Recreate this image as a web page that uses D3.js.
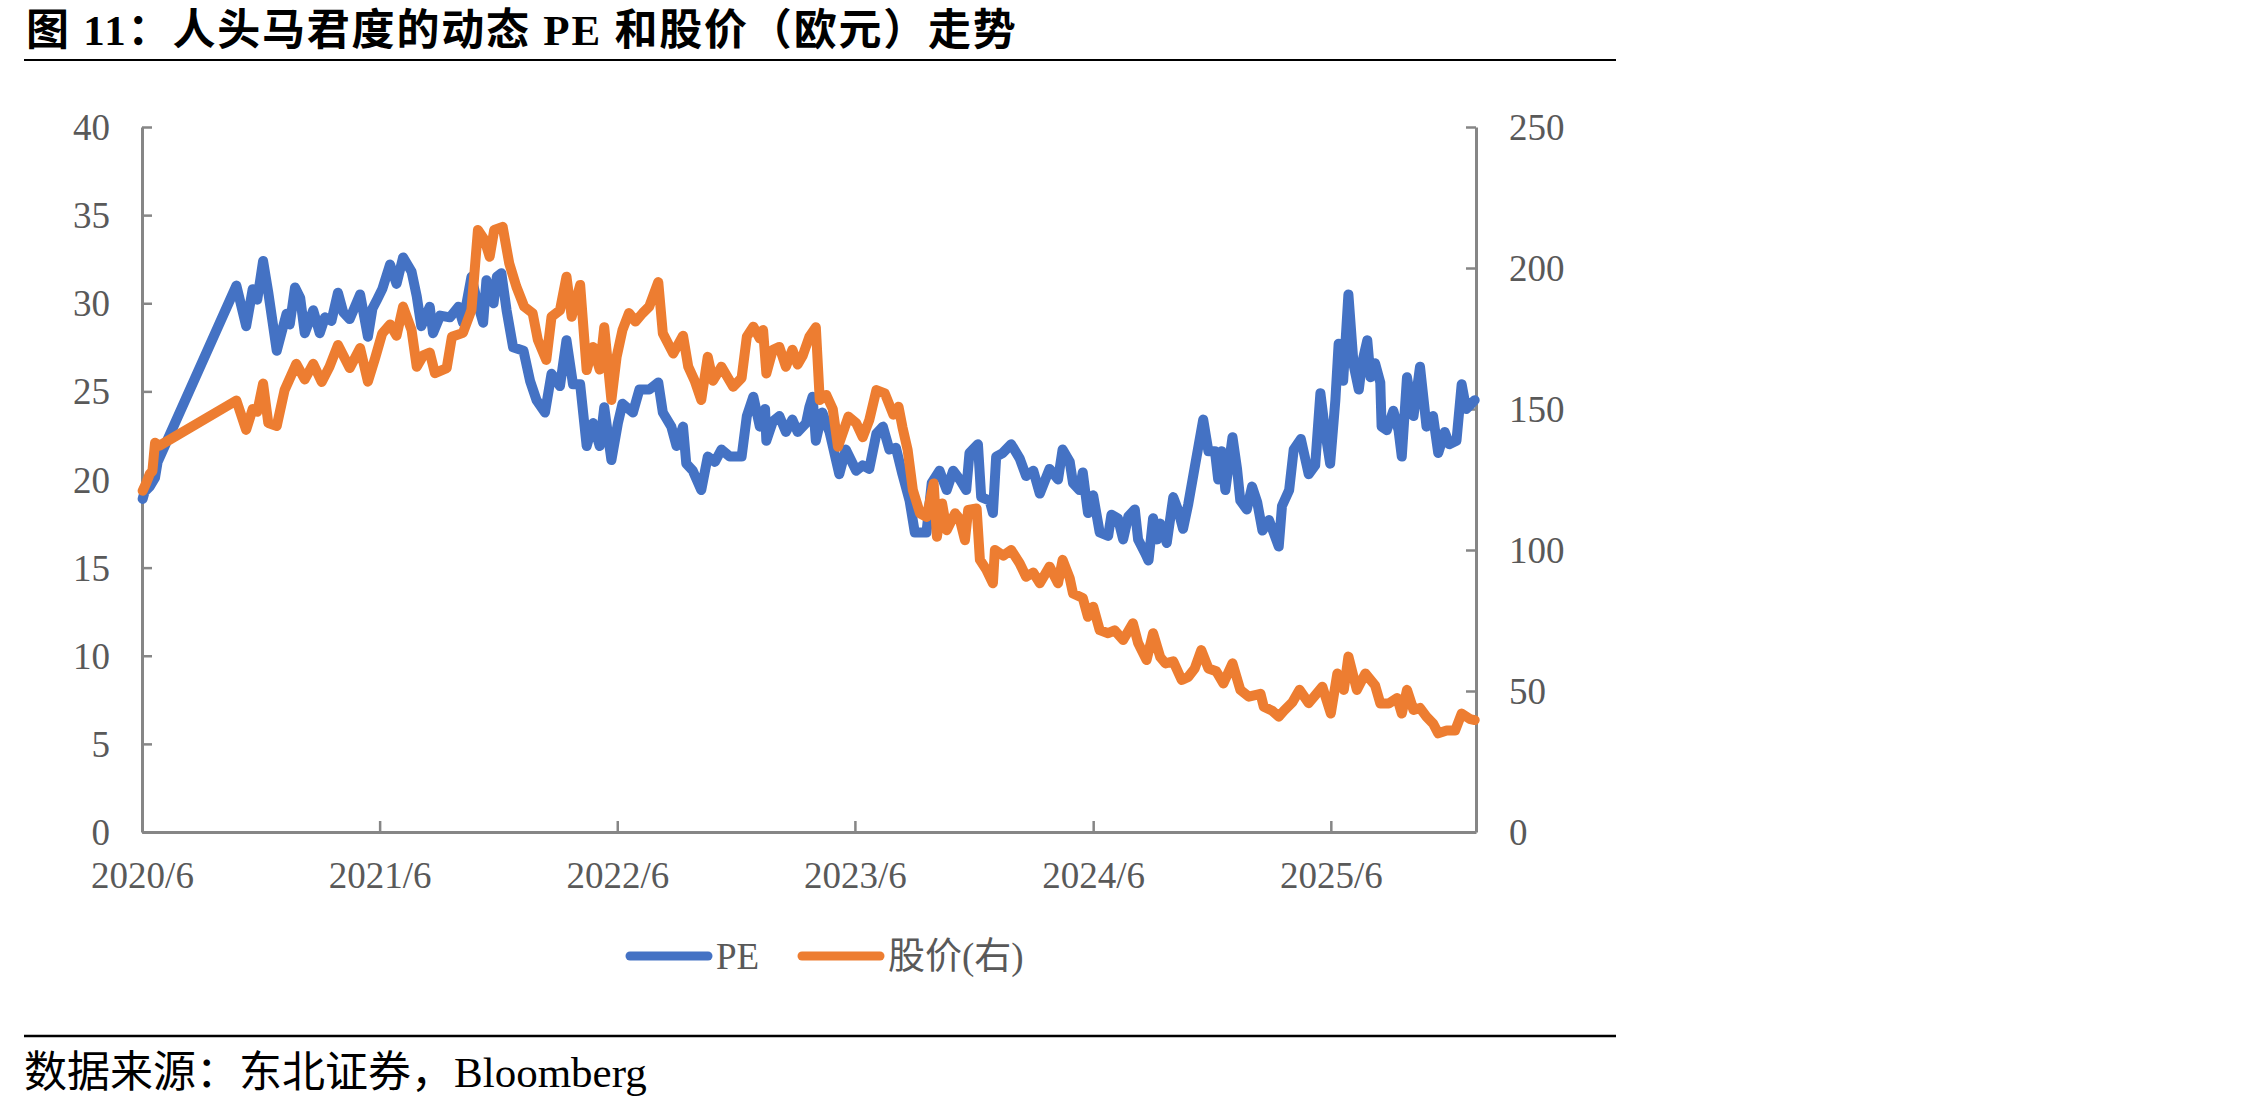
<!DOCTYPE html>
<html>
<head>
<meta charset="utf-8">
<script src="https://cdn.jsdelivr.net/npm/d3@7"></script>
<style>
  html, body { margin: 0; padding: 0; background: #fff; }
  svg { display: block; }
</style>
</head>
<body>
<svg id="chart" width="2268" height="1107"></svg>
<script>
// ---------------- data ----------------
const titleParts = ["图 ", "11", "：人头马君度的动态 ", "PE", " 和股价（欧元）走势"];
const sourceParts = ["数据来源：东北证券，", "Bloomberg"];
const seriesNames = ["PE", "股价(右)"];
const xTickDates = ["2020-06-01", "2021-06-01", "2022-06-01", "2023-06-01", "2024-06-01", "2025-06-01"];
const xTickLabels = ["2020/6", "2021/6", "2022/6", "2023/6", "2024/6", "2025/6"];
const leftTicks = [0, 5, 10, 15, 20, 25, 30, 35, 40];
const rightTicks = [0, 50, 100, 150, 200, 250];
const xDomain = ["2020-06-01", "2026-01-10"];

const peDates = ["2020-06-02","2020-06-05","2020-06-13","2020-06-21","2020-06-25","2020-10-24","2020-11-08","2020-11-18","2020-11-25","2020-12-04","2020-12-12","2020-12-25",
"2021-01-09","2021-01-14","2021-01-22","2021-01-30","2021-02-06","2021-02-19","2021-03-01","2021-03-09","2021-03-19","2021-03-29","2021-04-06","2021-04-16","2021-05-02","2021-05-14","2021-05-21","2021-05-28","2021-06-05","2021-06-17","2021-06-27","2021-07-07","2021-07-20","2021-07-28","2021-08-04","2021-08-17","2021-08-22","2021-09-02","2021-09-17","2021-09-30","2021-10-07","2021-10-20","2021-10-28","2021-11-07","2021-11-12","2021-11-23","2021-11-28","2021-12-05","2021-12-13","2021-12-23",
"2022-01-08","2022-01-18","2022-01-28","2022-02-10","2022-02-20","2022-03-05","2022-03-15","2022-03-25","2022-04-05","2022-04-15","2022-04-25","2022-05-05","2022-05-12","2022-05-23","2022-06-02","2022-06-09","2022-06-25","2022-07-05","2022-07-20","2022-08-03","2022-08-10","2022-08-23","2022-08-31","2022-09-10","2022-09-15","2022-09-25","2022-10-08","2022-10-18","2022-10-29","2022-11-08","2022-11-21","2022-12-09","2022-12-17","2022-12-27",
"2023-01-06","2023-01-14","2023-01-16","2023-01-26","2023-02-05","2023-02-15","2023-02-25","2023-03-05","2023-03-18","2023-03-23","2023-03-28","2023-04-02","2023-04-12","2023-04-23","2023-05-08","2023-05-18","2023-06-03","2023-06-13","2023-06-23","2023-07-04","2023-07-14","2023-07-24","2023-08-03","2023-08-13","2023-08-24","2023-09-01","2023-09-19","2023-09-27","2023-10-09","2023-10-20","2023-10-30","2023-11-09","2023-11-19","2023-11-24","2023-12-07","2023-12-12","2023-12-25","2023-12-30",
"2024-01-04","2024-01-14","2024-01-27","2024-02-09","2024-02-19","2024-03-01","2024-03-11","2024-03-26","2024-04-08","2024-04-15","2024-04-26","2024-05-01","2024-05-11","2024-05-16","2024-05-24","2024-06-01","2024-06-11","2024-06-24","2024-06-29","2024-07-09","2024-07-17","2024-07-25","2024-08-04","2024-08-09","2024-08-20","2024-08-25","2024-09-01","2024-09-07","2024-09-12","2024-09-22","2024-10-02","2024-10-10","2024-10-17","2024-10-25","2024-11-04","2024-11-17","2024-11-25","2024-12-05","2024-12-10","2024-12-15","2024-12-21",
"2025-01-01","2025-01-08","2025-01-13","2025-01-23","2025-01-31","2025-02-08","2025-02-16","2025-02-26","2025-03-05","2025-03-13","2025-03-18","2025-03-29","2025-04-05","2025-04-16","2025-04-28","2025-05-08","2025-05-16","2025-05-23","2025-05-31","2025-06-08","2025-06-13","2025-06-20","2025-06-28","2025-07-06","2025-07-14","2025-07-19","2025-07-27","2025-08-01","2025-08-08","2025-08-16","2025-08-18","2025-08-26","2025-09-05","2025-09-13","2025-09-18","2025-09-26","2025-10-06","2025-10-16","2025-10-26","2025-11-05","2025-11-13","2025-11-23","2025-11-30","2025-12-11","2025-12-19","2025-12-26","2026-01-03","2026-01-08"];
const peValues = [18.9,19.3,19.6,20.1,21.0,31.0,28.7,30.8,30.2,32.4,30.6,27.3,
29.4,28.8,30.9,30.3,28.3,29.6,28.3,29.2,29.0,30.6,29.5,29.1,30.5,28.1,29.7,30.2,30.8,32.2,31.1,32.6,31.8,30.4,28.7,29.8,28.3,29.3,29.2,29.8,28.9,31.5,30.2,28.9,31.3,30.0,31.5,31.7,29.6,27.5,
27.3,25.6,24.5,23.8,26.0,25.3,27.9,25.4,25.4,21.9,23.2,21.9,24.1,21.1,23.2,24.3,23.8,25.1,25.1,25.5,23.8,23.0,21.9,23.0,20.9,20.5,19.4,21.3,21.0,21.7,21.3,21.3,23.6,24.7,
23.0,24.0,22.2,23.3,23.6,22.7,23.4,22.7,23.2,24.1,24.7,22.2,23.8,22.7,20.3,21.7,20.5,20.8,20.6,22.6,23.0,21.7,21.8,20.3,18.8,17.0,17.0,19.8,20.5,19.4,20.5,20.0,19.4,21.5,22.0,19.0,18.8,18.1,
21.3,21.5,22.0,21.2,20.2,20.5,19.2,20.6,20.0,21.7,21.0,19.8,19.4,20.4,18.1,19.1,17.0,16.8,18.0,17.8,16.6,17.9,18.3,16.6,15.8,15.4,17.8,16.6,17.5,16.4,19.0,18.2,17.2,18.6,20.7,23.4,21.6,21.6,20.0,21.6,19.4,
22.4,20.6,18.8,18.3,19.6,18.7,17.1,17.7,17.0,16.2,18.5,19.4,21.7,22.3,20.3,20.8,24.9,22.8,20.9,24.5,27.7,25.6,30.5,26.5,25.1,26.6,27.9,25.8,26.6,25.5,23.0,22.8,23.9,22.8,21.3,25.8,23.6,26.4,23.0,23.6,21.5,22.7,22.0,22.2,25.4,24.0,24.3,24.5];

const priceDates = ["2020-06-02","2020-06-08","2020-06-13","2020-06-17","2020-06-21","2020-06-28","2020-10-24","2020-11-08","2020-11-18","2020-11-25","2020-12-04","2020-12-12","2020-12-25",
"2021-01-06","2021-01-24","2021-02-06","2021-02-19","2021-03-04","2021-03-16","2021-03-29","2021-04-16","2021-05-02","2021-05-14","2021-05-25","2021-06-05","2021-06-17","2021-06-27","2021-07-07","2021-07-20","2021-07-28","2021-08-07","2021-08-17","2021-08-25","2021-09-12","2021-09-20","2021-10-07","2021-10-20","2021-10-30","2021-11-09","2021-11-17","2021-11-24","2021-12-07","2021-12-17","2021-12-28",
"2022-01-09","2022-01-22","2022-01-30","2022-02-12","2022-02-20","2022-03-05","2022-03-15","2022-03-23","2022-04-05","2022-04-15","2022-04-25","2022-05-05","2022-05-12","2022-05-23","2022-05-31","2022-06-09","2022-06-19","2022-06-29","2022-07-10","2022-07-20","2022-08-03","2022-08-10","2022-08-26","2022-09-10","2022-09-18","2022-09-28","2022-10-08","2022-10-18","2022-10-26","2022-11-08","2022-11-26","2022-12-09","2022-12-17","2022-12-27",
"2023-01-06","2023-01-11","2023-01-16","2023-01-26","2023-02-05","2023-02-15","2023-02-25","2023-03-05","2023-03-13","2023-03-23","2023-04-02","2023-04-08","2023-04-18","2023-04-28","2023-05-06","2023-05-22","2023-06-03","2023-06-13","2023-06-23","2023-07-04","2023-07-17","2023-07-30","2023-08-07","2023-08-13","2023-08-21","2023-08-29","2023-09-09","2023-09-19","2023-09-30","2023-10-05","2023-10-13","2023-10-20","2023-11-02","2023-11-09","2023-11-17","2023-11-22","2023-12-05","2023-12-10","2023-12-20","2023-12-30",
"2024-01-02","2024-01-15","2024-01-27","2024-02-09","2024-02-19","2024-03-01","2024-03-11","2024-03-26","2024-04-08","2024-04-15","2024-04-26","2024-05-01","2024-05-16","2024-05-24","2024-06-01","2024-06-11","2024-06-24","2024-07-04","2024-07-17","2024-08-01","2024-08-09","2024-08-22","2024-09-01","2024-09-12","2024-09-20","2024-10-02","2024-10-15","2024-10-25","2024-11-04","2024-11-14","2024-11-25","2024-12-07","2024-12-18",
"2025-01-01","2025-01-13","2025-01-26","2025-02-13","2025-02-18","2025-03-03","2025-03-13","2025-03-21","2025-04-03","2025-04-14","2025-04-28","2025-05-19","2025-06-01","2025-06-11","2025-06-21","2025-06-28","2025-07-11","2025-07-24","2025-08-08","2025-08-16","2025-08-29","2025-09-11","2025-09-18","2025-09-26","2025-10-06","2025-10-16","2025-10-26","2025-11-05","2025-11-13","2025-11-26","2025-12-09","2025-12-19","2026-01-01","2026-01-08"];
const priceValues = [121,124,127,128,138,137,153,142.6,150,149,159,145,144,
156.7,166,160.5,166,159.6,165,172.7,164.5,171.6,159.7,168,176.8,180,176,186.3,178,165,169,170,162.7,164.5,175.6,177,185.1,213.5,210,204,213.5,214.6,201.7,193.4,
186.3,184,174.5,167.4,182.7,185,196.9,182.7,194,163.8,172,164,179,153.2,168.5,178,184,181,184,186.3,195,176.8,169.7,176,165,160,153.2,168.5,160,165,157.9,161,175.6,179.2,
175,178,162.6,171,172,165,171,165.8,169,175.6,179,153.2,155,150,136.6,147.3,145,140,146,156.7,155.5,148,150.8,143.6,135.5,121.3,113,111.7,123.6,104.7,116.5,107,113,111,103.5,114.2,114.7,96.5,93,88.2,
100,98,100,95.3,90.5,92,88.2,94.1,88.2,96.5,90,84.6,83,76.3,79.9,71.6,70.5,71.5,68.1,74,67,61,70.5,62,59.8,60.5,53.9,55,58,64.5,58,57,52.7,
59.8,50.4,48,49,44.4,43,40.9,43,46,50.4,45.7,51.5,42,56.2,50.4,62.2,50.4,56.2,52,45.6,45.6,47.5,42,50.4,43.3,44,40.9,38.5,35,36,36,42,40,39.7];

// ---------------- chart ----------------
const parse = d3.timeParse("%Y-%m-%d");
const svg = d3.select("#chart");
const C = { blue: "#4472C4", orange: "#ED7D31", axis: "#868686", text: "#595959" };
const plot = { left: 142, right: 1476, top: 127, bottom: 832 };
const FONT = "'Liberation Serif','Noto Sans CJK SC',serif";

const x = d3.scaleTime().domain(xDomain.map(parse)).range([plot.left, plot.right]);
const yL = d3.scaleLinear().domain([0, 40]).range([plot.bottom, plot.top]);
const yR = d3.scaleLinear().domain([0, 250]).range([plot.bottom, plot.top]);

// title & rules
const title = svg.append("text").attr("x", 26).attr("y", 45)
  .attr("font-family", FONT).attr("font-weight", "bold").attr("font-size", 43)
  .attr("letter-spacing", 1.8).attr("fill", "#000");
title.selectAll("tspan").data(titleParts).enter().append("tspan").text(d => d);
svg.append("line").attr("x1", 24).attr("x2", 1616).attr("y1", 60).attr("y2", 60)
  .attr("stroke", "#000").attr("stroke-width", 2);
svg.append("line").attr("x1", 24).attr("x2", 1616).attr("y1", 1036).attr("y2", 1036)
  .attr("stroke", "#000").attr("stroke-width", 2.5);
const src = svg.append("text").attr("x", 24).attr("y", 1087)
  .attr("font-family", FONT).attr("font-size", 43).attr("fill", "#000");
src.selectAll("tspan").data(sourceParts).enter().append("tspan").text(d => d);

function styleAxis(g) {
  g.select(".domain").attr("stroke", C.axis).attr("stroke-width", 3);
  g.selectAll(".tick line").attr("stroke", C.axis).attr("stroke-width", 2.5);
  g.selectAll(".tick text").attr("fill", C.text)
    .attr("font-family", "'Liberation Serif',serif").attr("font-size", 37);
}

// left axis
const gL = svg.append("g").attr("transform", `translate(${plot.left},0)`)
  .call(d3.axisLeft(yL).tickValues(leftTicks).tickSizeInner(-10).tickSizeOuter(0).tickPadding(32));
styleAxis(gL);
gL.selectAll(".tick text").attr("dy", "0.34em");

// right axis
const gR = svg.append("g").attr("transform", `translate(${plot.right},0)`)
  .call(d3.axisRight(yR).tickValues(rightTicks).tickSizeInner(-10).tickSizeOuter(0).tickPadding(33));
styleAxis(gR);
gR.selectAll(".tick text").attr("dy", "0.34em");

// bottom axis
const xTicks = xTickDates.map(parse);
const gB = svg.append("g").attr("transform", `translate(0,${plot.bottom})`)
  .call(d3.axisBottom(x).tickValues(xTicks).tickSizeInner(-11).tickSizeOuter(0)
    .tickPadding(30).tickFormat((d, i) => xTickLabels[i]));
styleAxis(gB);
gB.selectAll(".tick text").attr("dy", "0.71em");
gB.selectAll(".tick").filter((d, i) => i === 0).select("line").remove();

// lines
const peData = peDates.map((d, i) => ({ date: parse(d), v: peValues[i] }));
const priceData = priceDates.map((d, i) => ({ date: parse(d), v: priceValues[i] }));

svg.append("path").datum(peData)
  .attr("fill", "none").attr("stroke", C.blue).attr("stroke-width", 10)
  .attr("stroke-linejoin", "round").attr("stroke-linecap", "round")
  .attr("d", d3.line().x(d => x(d.date)).y(d => yL(d.v)));
svg.append("path").datum(priceData)
  .attr("fill", "none").attr("stroke", C.orange).attr("stroke-width", 10)
  .attr("stroke-linejoin", "round").attr("stroke-linecap", "round")
  .attr("d", d3.line().x(d => x(d.date)).y(d => yR(d.v)));

// legend
const legend = [
  { name: seriesNames[0], color: C.blue, x1: 630, x2: 708, tx: 716 },
  { name: seriesNames[1], color: C.orange, x1: 802, x2: 880, tx: 888 }
];
const lg = svg.append("g");
legend.forEach(l => {
  lg.append("line").attr("x1", l.x1).attr("x2", l.x2).attr("y1", 956).attr("y2", 956)
    .attr("stroke", l.color).attr("stroke-width", 9).attr("stroke-linecap", "round");
  lg.append("text").attr("x", l.tx).attr("y", 969)
    .attr("font-family", FONT).attr("font-size", 37).attr("fill", C.text).text(l.name);
});
</script>
</body>
</html>
